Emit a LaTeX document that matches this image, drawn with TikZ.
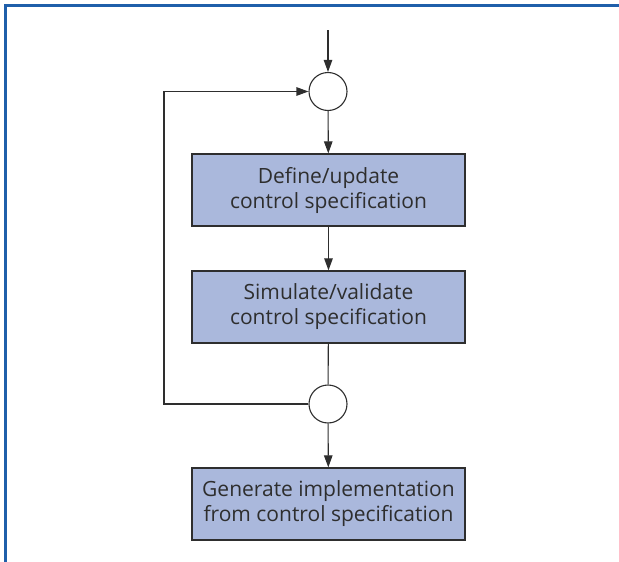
\documentclass[tikz,border=0pt]{standalone}
\usepackage{fontspec}
\setmainfont{Open Sans}
\usetikzlibrary{arrows.meta}
\definecolor{framblue}{HTML}{1F5FAA}
\definecolor{boxfill}{HTML}{AAB8DC}
\definecolor{linegray}{HTML}{2E2E2E}
\tikzset{
  stagebox/.style={draw=linegray, line width=1.3pt, fill=boxfill,
    minimum width=273pt, minimum height=72pt, align=center,
    font=\fontsize{21}{25}\selectfont, text=linegray, inner sep=0pt},
  junction/.style={circle, draw=linegray, line width=1.1pt, fill=white,
    minimum size=38pt, inner sep=0pt},
  flow/.style={draw=linegray, line width=1.1pt,
    -{Triangle[length=12pt,width=8.5pt]}},
  plain/.style={draw=linegray, line width=1.1pt}
}
\begin{document}
\begin{tikzpicture}[x=1pt,y=-1pt]
  \useasboundingbox (0,0) rectangle (619,562);
  % frame on top and left
  \draw[framblue, line width=2.4pt] (5.3,562) -- (5.3,5.3) -- (619,5.3);

  \coordinate (start) at (328,30);
  \node[junction] (merge) at (328,91.5) {};
  \node[stagebox] (define) at (328.5,190) {Define/update\\control specification};
  \node[stagebox] (simulate) at (328.5,307) {Simulate/validate\\control specification};
  \node[junction] (split) at (328,404) {};
  \node[stagebox] (generate) at (328.5,504) {Generate implementation\\from control specification};

  \draw[flow] (start) -- (merge);
  \draw[flow] (merge) -- (define);
  \draw[flow] (define) -- (simulate);
  \draw[plain] (simulate) -- (split);
  \draw[flow] (split) -- (generate);
  \draw[flow] (split.west) -- (164,404) -- (164,91.5) -- (merge.west);
\end{tikzpicture}
\end{document}
